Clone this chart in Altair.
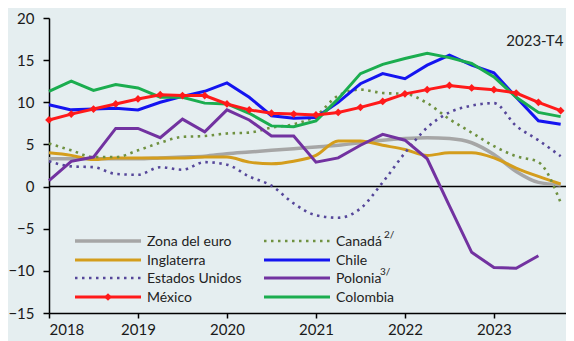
import altair as alt
import pandas as pd

# Quarterly data, 2018-T1 .. 2023-T4
years = [2018, 2019, 2020, 2021, 2022, 2023]
quarters = [f"{y}-T{q}" for y in years for q in range(1, 5)]

zona_euro = [3.3, 3.3, 3.3, 3.3, 3.3, 3.4, 3.5, 3.6, 3.9, 4.1, 4.3, 4.5,
             4.7, 4.9, 5.2, 5.5, 5.7, 5.8, 5.7, 5.2, 3.8, 1.8, 0.5, 0.2]
inglaterra = [4.0, 3.7, 3.2, 3.4, 3.4, 3.4, 3.4, 3.5, 3.5, 2.9, 2.7, 3.0,
              3.7, 5.4, 5.4, 4.9, 4.4, 3.7, 4.0, 4.0, 3.4, 2.2, 1.2, 0.3]
estados_unidos = [3.0, 2.4, 2.3, 1.5, 1.4, 2.3, 2.0, 2.9, 2.6, 1.2, 0.1, -2.0,
                  -3.4, -3.7, -2.6, 0.5, 4.0, 7.0, 8.8, 9.6, 9.9, 7.2, 5.5, 3.6]
mexico = [7.9, 8.6, 9.2, 9.8, 10.4, 10.9, 10.8, 10.8, 9.8, 9.1, 8.7, 8.6,
          8.5, 8.8, 9.4, 10.1, 11.0, 11.5, 12.0, 11.7, 11.5, 11.1, 10.0, 9.0]
canada = [5.1, 4.3, 3.5, 3.5, 4.3, 5.2, 5.9, 6.0, 6.3, 6.4, 7.0, 7.4,
          8.4, 10.8, 11.5, 11.1, 11.0, 9.9, 8.0, 6.4, 4.8, 3.6, 2.9, -1.9]
chile = [9.7, 9.1, 9.2, 9.3, 9.1, 10.0, 10.7, 11.3, 12.3, 10.6, 8.4, 8.1,
         8.2, 10.0, 12.2, 13.4, 12.8, 14.4, 15.6, 14.4, 13.5, 10.6, 7.8, 7.4]
polonia = [0.7, 3.0, 3.5, 6.9, 6.9, 5.8, 8.0, 6.5, 9.1, 7.9, 6.0, 6.0,
           2.9, 3.4, 4.9, 6.2, 5.5, 3.3, -2.3, -7.8, -9.6, -9.7, -8.2, None]
colombia = [11.3, 12.5, 11.4, 12.1, 11.7, 10.6, 10.6, 9.9, 9.8, 8.7, 7.2, 7.1,
            7.8, 10.4, 13.4, 14.5, 15.2, 15.8, 15.3, 14.6, 13.0, 10.6, 8.8, 8.3]

series_names = ["Zona del euro", "Inglaterra", "Estados Unidos", "México",
                "Canadá", "Chile", "Polonia", "Colombia"]
series_values = [zona_euro, inglaterra, estados_unidos, mexico,
                 canada, chile, polonia, colombia]

def qnum(label):
    y, q = label.split("-T")
    return int(y) + (int(q) - 1) / 4.0

rows = []
for name, vals in zip(series_names, series_values):
    for lab, v in zip(quarters, vals):
        if v is not None:
            rows.append({"serie": name, "trimestre": lab, "t": qnum(lab), "v": v})
df = pd.DataFrame(rows)

# styles
style = {
    "Zona del euro": dict(color="#a6a6a6", strokeWidth=3.5, interpolate="monotone"),
    "Inglaterra": dict(color="#d49d1c", strokeWidth=3, interpolate="monotone"),
    "Estados Unidos": dict(color="#56479a", strokeWidth=2.6, strokeDash=[2.5, 4.5], interpolate="monotone"),
    "México": dict(color="#ff1a1a", strokeWidth=3, interpolate="linear"),
    "Canadá": dict(color="#6f9140", strokeWidth=2.6, strokeDash=[2.5, 4.5], interpolate="monotone"),
    "Chile": dict(color="#1414f0", strokeWidth=3, interpolate="linear"),
    "Polonia": dict(color="#7232a0", strokeWidth=3, interpolate="linear"),
    "Colombia": dict(color="#1bad4f", strokeWidth=3, interpolate="linear"),
}
draw_order = ["Zona del euro", "Inglaterra", "Estados Unidos", "Canadá",
              "Polonia", "Chile", "Colombia", "México"]

FONT = "Lato"
X = alt.X("t:Q", scale=alt.Scale(domain=[2018, 2023.81], nice=False, zero=False),
          axis=alt.Axis(values=years, format="d", title=None, grid=False,
                        tickSize=5, labelPadding=4))
Y = alt.Y("v:Q", scale=alt.Scale(domain=[-15, 20], nice=False, zero=False),
          axis=alt.Axis(values=[-15, -10, -5, 0, 5, 10, 15, 20], title=None,
                        grid=False, tickSize=6, labelPadding=9))

layers = []
for name in draw_order:
    st = dict(style[name])
    interp = st.pop("interpolate")
    extra = {}
    if "strokeDash" in st:
        extra["strokeCap"] = "butt"
    layers.append(
        alt.Chart(df[df.serie == name]).mark_line(interpolate=interp, **st, **extra)
        .encode(x=X, y=Y)
    )
    if name == "México":
        layers.append(
            alt.Chart(df[df.serie == name]).mark_point(
                shape="diamond", filled=True, color=style[name]["color"], size=60, opacity=1)
            .encode(x=X, y=Y)
        )

one = pd.DataFrame({"a": [0]})

# zero line
layers.insert(0, alt.Chart(one).mark_rule(color="black", strokeWidth=1.5).encode(y=alt.datum(0)))

# annotation
layers.append(
    alt.Chart(one).mark_text(align="right", baseline="middle", fontSize=15,
                             font=FONT, color="#222222", text="2023-T4")
    .encode(x=alt.datum(2023.78), y=alt.datum(17.3))
)

# manual legend (positions in plot-area pixels)
legend_cols = [26, 215]
legend_rows = [223, 242, 260, 279]
legend_layout = [("Zona del euro", 0, 0), ("Inglaterra", 0, 1), ("Estados Unidos", 0, 2),
                 ("México", 0, 3), ("Canadá", 1, 0), ("Chile", 1, 1),
                 ("Polonia", 1, 2), ("Colombia", 1, 3)]
superscripts = {"Canadá": ("2/", 335), "Polonia": ("3/", 331)}
for name, c, r in legend_layout:
    st = style[name]
    x0 = legend_cols[c]
    y0 = legend_rows[r]
    kw = dict(color=st["color"], strokeWidth=st["strokeWidth"])
    if "strokeDash" in st:
        kw["strokeDash"] = st["strokeDash"]
        kw["strokeCap"] = "butt"
    layers.append(alt.Chart(one).mark_rule(**kw).encode(
        x=alt.value(x0), x2=alt.value(x0 + 66), y=alt.value(y0)))
    if name == "México":
        layers.append(alt.Chart(one).mark_point(shape="diamond", filled=True, size=60,
                                                color=st["color"], opacity=1)
                      .encode(x=alt.value(x0 + 33), y=alt.value(y0)))
    layers.append(alt.Chart(one).mark_text(align="left", baseline="middle", fontSize=14,
                                           font=FONT, color="#222222", text=name)
                  .encode(x=alt.value(x0 + 72), y=alt.value(y0 + 1)))
    if name in superscripts:
        s, sx = superscripts[name]
        layers.append(alt.Chart(one).mark_text(align="left", baseline="middle", fontSize=10,
                                               font=FONT, color="#222222", text=s)
                      .encode(x=alt.value(sx), y=alt.value(y0 - 6)))

chart = alt.layer(*layers).properties(
    width=517, height=295,
    autosize=alt.AutoSizeParams(type="none"),
    padding={"left": 41, "top": 10, "right": 0, "bottom": 28},
    background="#e5eef0",
).configure_view(stroke=None).configure_axis(
    domainColor="black", domainWidth=1.5, tickColor="black", tickWidth=1.5,
    labelColor="#1a1a1a", labelFont=FONT, labelFontSize=15,
)

chart.save("out.html", embed_options={"renderer": "svg", "actions": False})
